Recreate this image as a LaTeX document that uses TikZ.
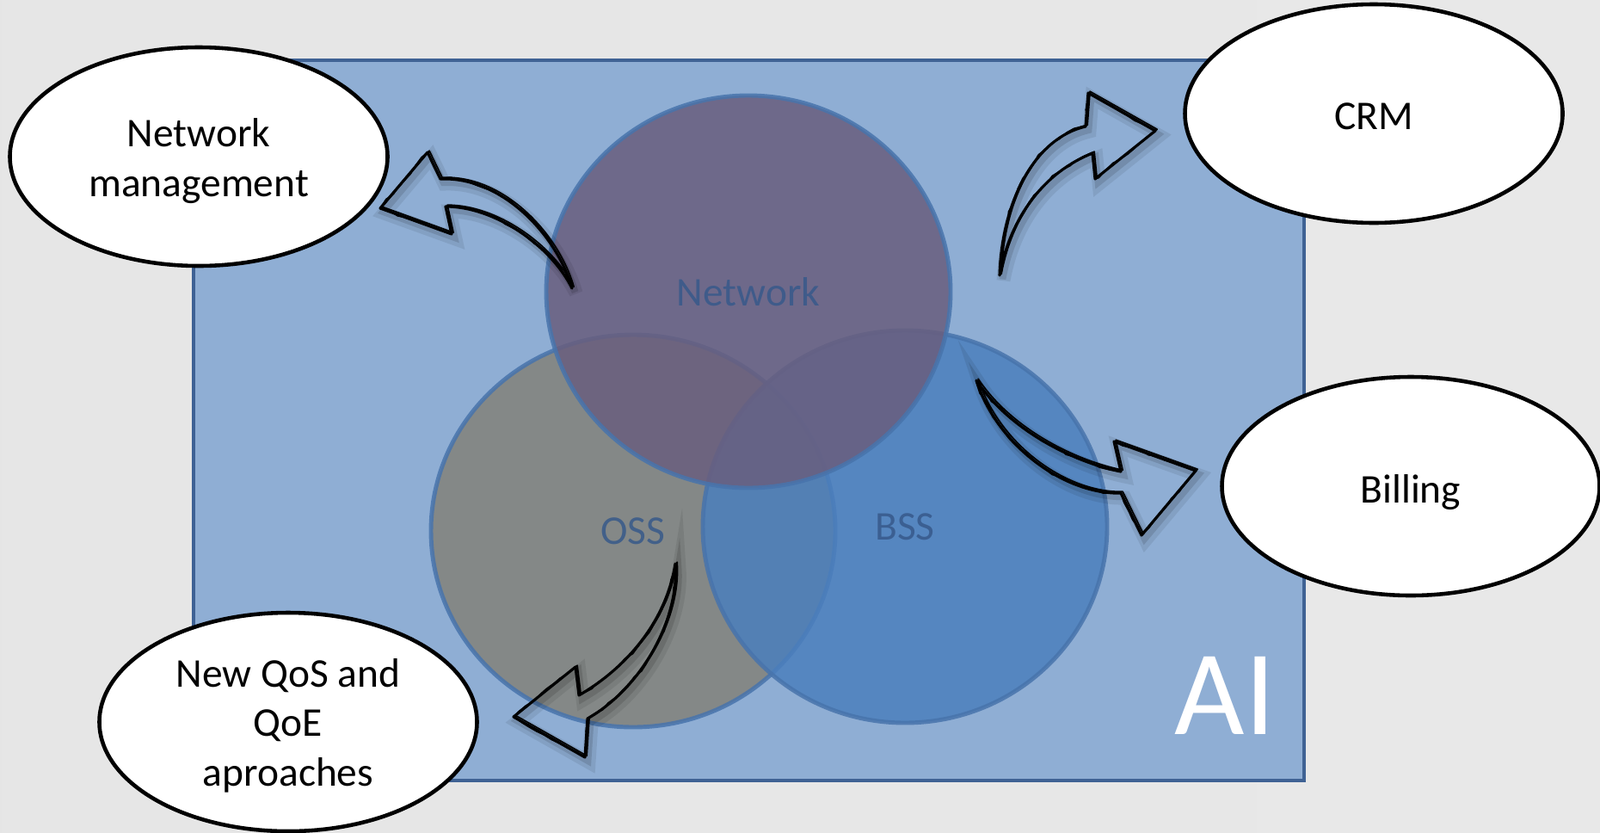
\documentclass[tikz,border=0pt]{standalone}
\usepackage{fontspec}
\setmainfont{Carlito}
\usetikzlibrary{shapes.geometric,decorations.pathmorphing}

\definecolor{boxblue}{HTML}{8FAED4}
\definecolor{rimblue}{HTML}{3F6294}
\definecolor{vennline}{HTML}{4874AC}
\definecolor{venntext}{HTML}{37598A}
\definecolor{netfill}{HTML}{695E7E}
\definecolor{ossfill}{HTML}{83827A}
\definecolor{bssfill}{HTML}{4B7FBD}

\tikzset{
  bubble/.style={ellipse, draw=black, line width=1.3pt, fill=white,
    minimum width=4.39cm, minimum height=2.54cm},
  bubtext/.style={align=center, inner sep=0pt,
    font=\fontsize{13.5}{16.4}\selectfont},
  venn/.style={ellipse, draw=vennline, line width=1.4pt,
    fill opacity=0.85, draw opacity=0.85, text=venntext,
    minimum width=4.70cm, minimum height=4.56cm,
    font=\fontsize{13.5}{16}\selectfont},
  sketch/.style={draw=black, line width=0.9pt, line join=round,
    preaction={draw=black, draw opacity=0.08, line width=4.5pt,
      transform canvas={shift={(1.3pt,-1.6pt)}}},
    preaction={draw=black, draw opacity=0.12, line width=2.2pt,
      transform canvas={shift={(1pt,-1.2pt)}}},
    postaction={draw=black, line width=0.5pt,
      transform canvas={shift={(0.6pt,0.5pt)}}},
    postaction={draw=black, line width=0.4pt, decorate,
      decoration={random steps, segment length=3pt, amplitude=0.5pt}}}
}

\begin{document}
\begin{tikzpicture}
\useasboundingbox (0,-9.67) rectangle (18.6,0);
\shade[left color=black!10, middle color=black!5, right color=black!9] (0,-9.67) rectangle (18.6,0);

\draw[draw=rimblue, line width=0.9pt, fill=boxblue] (2.25,-0.70) rectangle (15.16,-9.07);

\node[venn, fill=ossfill] (oss) at (7.36,-6.17) {OSS};
\node[venn, fill=bssfill] (bss) at (10.52,-6.12) {BSS};
\node[venn, fill=netfill] (net) at (8.70,-3.39) {Network};

\node[text=white, inner sep=0pt, font=\fontsize{40}{40}\selectfont] (ai) at (14.24,-8.08) {AI};

\node[bubble] (netman) at (2.31,-1.82) {};
\node[bubble] (crm) at (15.97,-1.32) {};
\node[bubble] (billing) at (16.40,-5.65) {};
\node[bubble] (qos) at (3.35,-8.39) {};
\node[bubtext] (netmantext) at ([yshift=-0.05cm]netman.center) {Network\\management};
\node[bubtext] (crmtext) at ([yshift=-0.03cm]crm.center) {CRM};
\node[bubtext] (billingtext) at ([yshift=-0.07cm]billing.center) {Billing};
\node[bubtext] (qostext) at ([yshift=-0.04cm]qos.center) {New QoS and\\QoE\\aproaches};

\draw[sketch] (6.65,-3.35) .. controls (6.48,-2.75) and (5.85,-2.05) .. (5.12,-2.08)
  -- (4.97,-1.77) -- (4.42,-2.42) -- (5.25,-2.72) -- (5.18,-2.40)
  .. controls (5.75,-2.40) and (6.40,-2.85) .. (6.65,-3.35) -- cycle;
\draw[sketch] (11.62,-3.20) .. controls (11.65,-2.30) and (12.05,-1.60) .. (12.62,-1.47)
  -- (12.65,-1.08) -- (13.43,-1.52) -- (12.73,-2.08) -- (12.70,-1.78)
  .. controls (12.15,-2.00) and (11.75,-2.50) .. (11.62,-3.20) -- cycle;
\draw[sketch] (11.35,-4.42) .. controls (11.70,-4.95) and (12.40,-5.35) .. (13.03,-5.48)
  -- (12.95,-5.13) -- (13.90,-5.47) -- (13.27,-6.22) -- (13.03,-5.73)
  .. controls (12.40,-5.75) and (11.60,-5.20) .. (11.35,-4.42) -- cycle;
\draw[sketch] (7.85,-6.55) .. controls (7.75,-7.20) and (7.30,-7.75) .. (6.73,-8.08)
  -- (6.69,-7.75) -- (5.97,-8.33) -- (6.80,-8.80) -- (6.83,-8.35)
  .. controls (7.45,-8.00) and (7.90,-7.20) .. (7.85,-6.55) -- cycle;

\end{tikzpicture}
\end{document}
